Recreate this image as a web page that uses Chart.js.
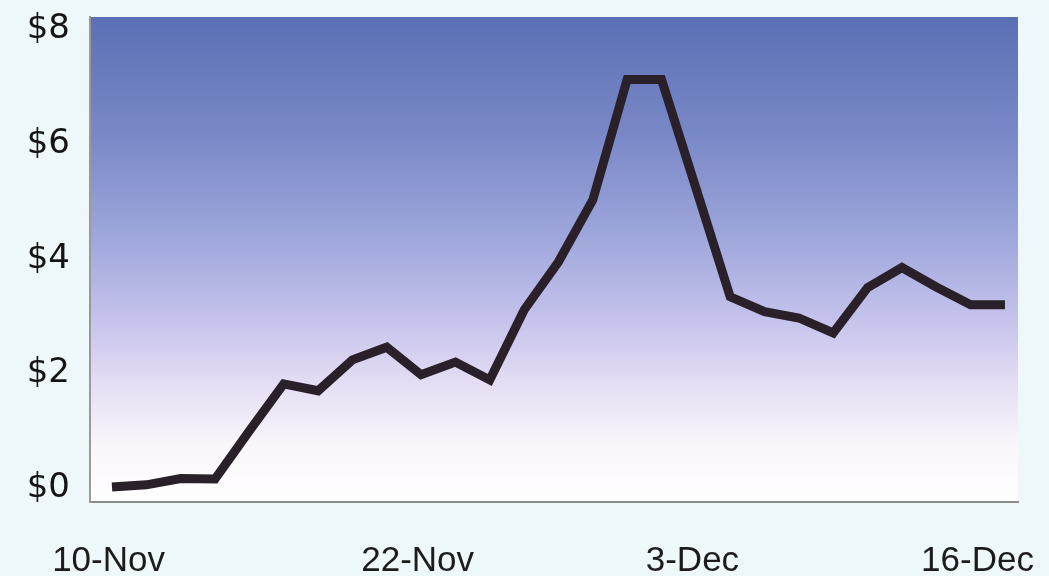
<!DOCTYPE html>
<html>
<head>
<meta charset="utf-8">
<script src="https://cdn.jsdelivr.net/npm/chart.js@4/dist/chart.umd.min.js"></script>
<style>
  html, body { margin: 0; padding: 0; background: #eef7fa; }
  #wrap { width: 1049px; height: 576px; }
</style>
</head>
<body>
<div id="wrap"><canvas id="c" width="1049" height="576"></canvas></div>
<script>
// Daily price, one value per trading session
const prices = [0.02, 0.06, 0.17, 0.16, 1.0, 1.82, 1.70, 2.24, 2.46, 1.98, 2.20, 1.89,
                3.11, 3.95, 5.03, 7.13, 7.13, 5.24, 3.34, 3.08, 2.97, 2.71, 3.50, 3.85,
                3.51, 3.20, 3.20];
// Date labels along the session axis
const dateLabels = ['10-Nov', '22-Nov', '3-Dec', '16-Dec'];
const dateSessions = [-0.1, 8.9, 16.9, 25.2];
// Price axis ticks
const priceTicks = [0, 2, 4, 6, 8];

const points = prices.map((v, i) => ({ x: i, y: v }));

// Vertical blue-to-white fill behind the plot area
const plotFill = {
  id: 'plotFill',
  beforeDraw(chart) {
    const { ctx, chartArea: a } = chart;
    const g = ctx.createLinearGradient(0, a.top, 0, a.bottom);
    g.addColorStop(0.00, '#5a70b4');
    g.addColorStop(0.25, '#7a89c8');
    g.addColorStop(0.45, '#9ea6db');
    g.addColorStop(0.62, '#c4c2ec');
    g.addColorStop(0.76, '#e6def4');
    g.addColorStop(0.88, '#faf5fb');
    g.addColorStop(1.00, '#ffffff');
    ctx.save();
    ctx.fillStyle = g;
    ctx.fillRect(a.left, a.top, a.right - a.left, a.bottom - a.top);
    ctx.restore();
  }
};

new Chart(document.getElementById('c'), {
  type: 'line',
  data: {
    datasets: [{
      data: points,
      borderColor: '#2a2029',
      borderWidth: 9,
      borderJoinStyle: 'miter',
      borderCapStyle: 'butt',
      pointRadius: 0,
      tension: 0,
      fill: false
    }]
  },
  options: {
    responsive: false,
    animation: false,
    layout: { padding: { top: 17, right: 31, left: 0, bottom: 0 } },
    plugins: { legend: { display: false }, tooltip: { enabled: false } },
    scales: {
      x: {
        type: 'linear',
        min: -0.64,
        max: 26.38,
        grid: { display: false, drawTicks: false },
        border: { display: true, color: '#8a8a8a', width: 2 },
        afterBuildTicks(axis) { axis.ticks = dateSessions.map(v => ({ value: v })); },
        afterFit(axis) {
          axis.height = 74;
          axis.paddingLeft = 0;
          axis.paddingRight = 0;
        },
        ticks: {
          autoSkip: false,
          maxRotation: 0,
          padding: 38,
          color: '#1c1c1c',
          font: { family: 'Liberation Sans, Arial, sans-serif', size: 35 },
          callback(value) {
            const i = dateSessions.indexOf(value);
            return i >= 0 ? dateLabels[i] : '';
          }
        }
      },
      y: {
        min: -0.24,
        max: 8.22,
        grid: { display: false, drawTicks: false },
        border: { display: true, color: '#9a9a9a', width: 2 },
        afterBuildTicks(axis) { axis.ticks = priceTicks.map(v => ({ value: v })); },
        afterFit(axis) {
          axis.width = 90;
          axis.paddingTop = 0;
          axis.paddingBottom = 0;
        },
        ticks: {
          padding: 20,
          color: '#151515',
          font: { family: 'DejaVu Sans, sans-serif', size: 34 },
          callback(value) { return '$' + value; }
        }
      }
    }
  },
  plugins: [plotFill]
});
</script>
</body>
</html>
